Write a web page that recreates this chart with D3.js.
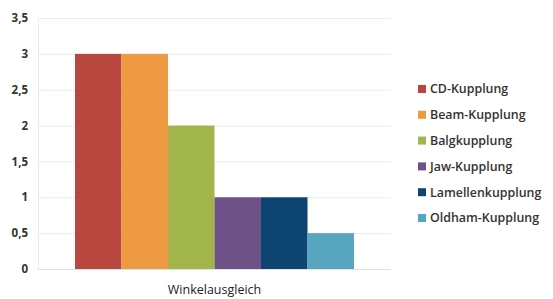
<!DOCTYPE html>
<html><head><meta charset="utf-8">
<script src="https://cdn.jsdelivr.net/npm/d3@7"></script>
<style>body{margin:0;background:#fff;}svg{display:block;font-family:"Open Sans",sans-serif;}</style>
</head><body><svg id="c" width="553" height="299"></svg>
<script>
const category = "Winkelausgleich";
const seriesNames = ["CD-Kupplung","Beam-Kupplung","Balgkupplung","Jaw-Kupplung","Lamellenkupplung","Oldham-Kupplung"];
const seriesValues = [3, 3, 2, 1, 1, 0.5];
const seriesColors = ["#B8483F","#EE9A42","#A1B54B","#6E5186","#0E4471","#57A5BF"];
const yTicks = [0,0.5,1,1.5,2,2.5,3,3.5];

const svg = d3.select("#c");
const m = {l:38, r:391, t:18, b:269};
const y = d3.scaleLinear().domain([0,3.5]).range([m.b, m.t]);
const x0 = d3.scaleBand().domain([category]).range([m.l, m.r]).paddingInner(0).paddingOuter(0.1326);
const x1 = d3.scaleBand().domain(seriesNames).range([0, x0.bandwidth()]).padding(0);

// gridlines
svg.append("g").selectAll("line").data(yTicks.filter(d=>d>0)).join("line")
  .attr("x1", m.l).attr("x2", m.r).attr("y1", d=>y(d)+0.5).attr("y2", d=>y(d)+0.5)
  .attr("stroke", "#e6edf3").attr("stroke-width", 1);
svg.append("line").attr("x1", m.l+0.5).attr("x2", m.l+0.5).attr("y1", m.t).attr("y2", m.b)
  .attr("stroke", "#e6edf3");

// y axis labels
const fmt = d => String(d).replace(".", ",");
const yAxis = d3.axisLeft(y).tickValues(yTicks).tickFormat(fmt).tickSize(0).tickPadding(10);
const ga = svg.append("g").attr("transform", `translate(${m.l},0)`).call(yAxis);
ga.select(".domain").remove();
ga.selectAll("text").attr("font-size", 11.5).attr("font-weight", 700).attr("fill", "#333")
  .attr("font-family", "Open Sans, sans-serif");

// bars
svg.append("g").selectAll("rect").data(seriesNames).join("rect")
  .attr("x", (d)=>x0(category)+x1(d))
  .attr("width", x1.bandwidth())
  .attr("y", (d,i)=>y(seriesValues[i]))
  .attr("height", (d,i)=>y(0)-y(seriesValues[i]))
  .attr("fill", (d,i)=>seriesColors[i]);

// x axis line
svg.append("line").attr("x1", m.l).attr("x2", m.r).attr("y1", m.b+0.5).attr("y2", m.b+0.5)
  .attr("stroke", "#dde2e7");

// category label
const xAxis = d3.axisBottom(x0).tickSize(0).tickPadding(16);
const gx = svg.append("g").attr("transform", `translate(0,${m.b})`).call(xAxis);
gx.select(".domain").remove();
gx.selectAll("text").attr("font-size", 12.5).attr("fill", "#222").attr("font-family", "Open Sans, sans-serif");

// legend
const lg = svg.append("g").attr("transform", "translate(418,89)");
const items = lg.selectAll("g").data(seriesNames).join("g")
  .attr("transform", (d,i)=>`translate(0,${i*25.8})`);
items.append("rect").attr("x",0).attr("y",-4).attr("width",8).attr("height",8)
  .attr("fill", (d,i)=>seriesColors[i]);
items.append("text").attr("x", 12).attr("y", 0).attr("dy","0.35em")
  .attr("font-size", 12.4).attr("font-weight", 600).attr("fill", "#333").text(d=>d);
</script></body></html>
